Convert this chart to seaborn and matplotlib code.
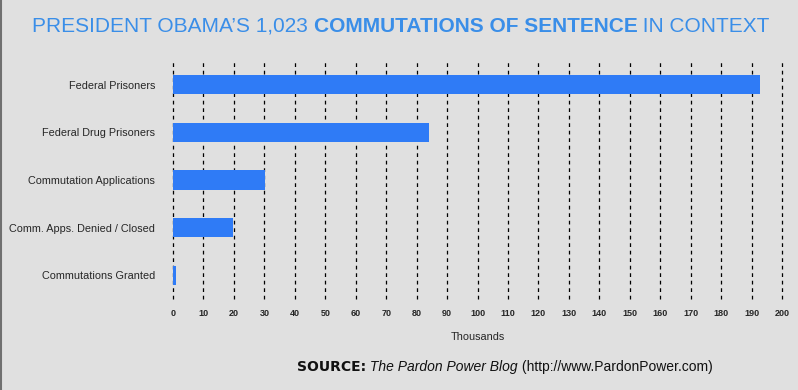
import matplotlib
matplotlib.use('Agg')
import matplotlib.pyplot as plt
import seaborn as sns
import pandas as pd
from matplotlib.lines import Line2D

# data (thousands)
categories = ["Federal Prisoners", "Federal Drug Prisoners", "Commutation Applications",
              "Comm. Apps. Denied / Closed", "Commutations Granted"]
values = [192.8, 84.0, 30.2, 19.8, 1.023]
ticks = list(range(0, 201, 10))

df = pd.DataFrame({"category": categories, "value": values})

sns.set_theme(style="white")
plt.rcParams['font.family'] = ['Liberation Sans', 'DejaVu Sans']

BG = "#e0e0e0"
BAR = "#2f7bf6"
TITLE = "#3a8ee8"

fig = plt.figure(figsize=(7.98, 3.90), dpi=100, facecolor=BG)
ax = fig.add_axes([173 / 798, 1 - 299 / 390, (782 - 173) / 798, (299 - 61) / 390])
ax.set_facecolor(BG)

sns.barplot(data=df, x="value", y="category", color=BAR, width=0.4,
            saturation=1, linewidth=0, edgecolor="none", ax=ax, zorder=3)

ax.set_xlim(0, 200)
ax.set_xticks(ticks)
ax.set_xticklabels([str(t) for t in ticks], fontsize=6.5, fontweight="bold")
ax.tick_params(axis="x", length=0, pad=7)
ax.tick_params(axis="y", length=0, pad=13, labelsize=7.8)
for t in ticks:
    ax.axvline(t, color="black", lw=0.9, ls=(0, (3, 3)), zorder=1, clip_on=False)
for s in ax.spines.values():
    s.set_visible(False)
ax.set_ylabel("")
ax.set_xlabel("Thousands", fontsize=7.8, labelpad=10)

# thin grey frame line on the left edge
fig.add_artist(Line2D([0.0015, 0.0015], [0, 1], transform=fig.transFigure,
                      color="#707070", lw=1.5))

# title with mixed weights
t1 = fig.text(32 / 798, 1 - 32 / 390, "PRESIDENT OBAMA\u2019S 1,023 ", color=TITLE,
              fontsize=15, va="baseline", ha="left")
t2 = ax.annotate("COMMUTATIONS OF SENTENCE", xy=(1, 0), xycoords=t1, va="bottom", ha="left",
                 color=TITLE, fontsize=15, fontweight="bold", annotation_clip=False)
ax.annotate(" IN CONTEXT", xy=(1, 0), xycoords=t2, va="bottom", ha="left",
            color=TITLE, fontsize=15, annotation_clip=False)

# source line
s1 = fig.text(297 / 798, 1 - 371 / 390, "SOURCE:", fontsize=10, fontweight="bold",
              family="DejaVu Sans", color="#111111", va="baseline", ha="left")
s2 = ax.annotate(" The Pardon Power Blog", xy=(1, 0), xycoords=s1, va="bottom", ha="left",
                 fontsize=10, style="italic", color="#111111", annotation_clip=False)
ax.annotate(" (http://www.PardonPower.com)", xy=(1, 0), xycoords=s2, va="bottom",
            ha="left", fontsize=10, color="#111111", annotation_clip=False)

fig.savefig("out.png", dpi=100, facecolor=BG)
